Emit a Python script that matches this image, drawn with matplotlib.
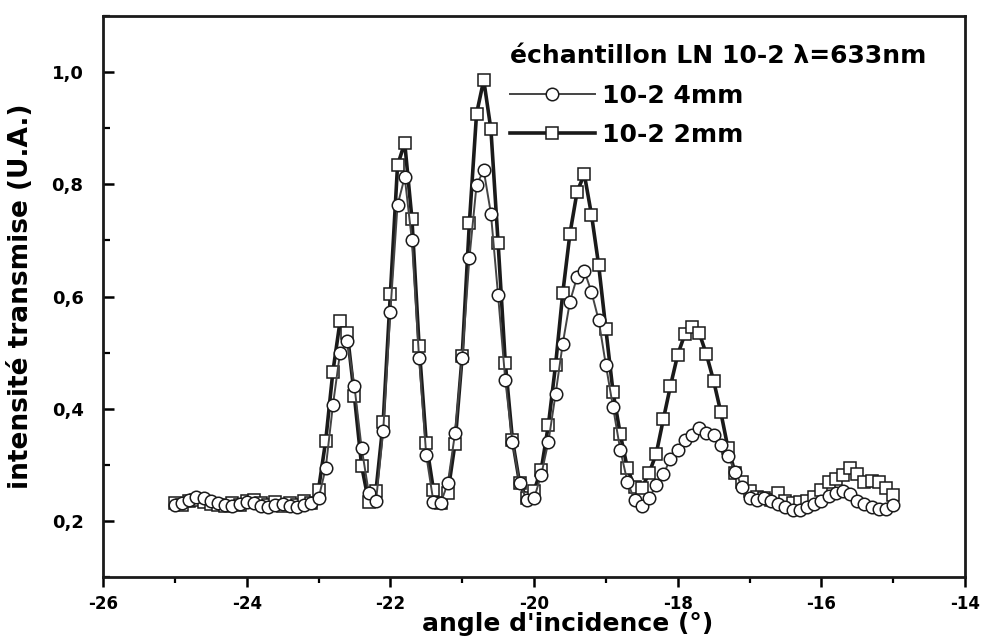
import numpy as np
import matplotlib
matplotlib.use('Agg')
import matplotlib.pyplot as plt
from matplotlib.ticker import MultipleLocator, FuncFormatter

plt.rcParams['font.family'] = ['DejaVu Sans']
plt.rcParams['axes.unicode_minus'] = False

# incidence angle grid (deg), one reading every 0.1 deg
angle = np.linspace(-25.0, -15.0, 101)

# sample 10-2, 4 mm thick (circles)
i_4mm = [
    0.228, 0.232, 0.238, 0.242, 0.240, 0.236, 0.232, 0.228, 0.226, 0.230,
    0.234, 0.232, 0.226, 0.224, 0.228, 0.230, 0.226, 0.224, 0.228, 0.232,
    0.240, 0.294, 0.406, 0.500, 0.520, 0.440, 0.330, 0.250, 0.235, 0.360,
    0.573, 0.763, 0.813, 0.700, 0.490, 0.317, 0.234, 0.232, 0.267, 0.356,
    0.490, 0.668, 0.799, 0.825, 0.748, 0.602, 0.451, 0.341, 0.267, 0.237,
    0.240, 0.282, 0.341, 0.426, 0.516, 0.591, 0.635, 0.646, 0.608, 0.558,
    0.478, 0.403, 0.327, 0.270, 0.237, 0.226, 0.240, 0.264, 0.283, 0.311,
    0.326, 0.344, 0.353, 0.365, 0.356, 0.353, 0.335, 0.316, 0.288, 0.260,
    0.240, 0.238, 0.240, 0.236, 0.230, 0.224, 0.220, 0.220, 0.224, 0.230,
    0.236, 0.244, 0.250, 0.254, 0.248, 0.236, 0.230, 0.225, 0.222, 0.221,
    0.228,
]

# sample 10-2, 2 mm thick (squares)
i_2mm = [
    0.232, 0.228, 0.236, 0.238, 0.234, 0.230, 0.228, 0.226, 0.232, 0.228,
    0.236, 0.238, 0.232, 0.228, 0.234, 0.226, 0.232, 0.228, 0.236, 0.232,
    0.256, 0.343, 0.466, 0.556, 0.535, 0.422, 0.298, 0.233, 0.254, 0.376,
    0.604, 0.834, 0.874, 0.739, 0.512, 0.339, 0.255, 0.232, 0.250, 0.338,
    0.494, 0.731, 0.926, 0.986, 0.898, 0.696, 0.482, 0.344, 0.267, 0.240,
    0.254, 0.291, 0.371, 0.478, 0.606, 0.712, 0.787, 0.818, 0.746, 0.656,
    0.542, 0.430, 0.355, 0.294, 0.260, 0.258, 0.285, 0.319, 0.381, 0.441,
    0.496, 0.533, 0.546, 0.535, 0.497, 0.450, 0.394, 0.330, 0.286, 0.270,
    0.254, 0.243, 0.240, 0.238, 0.249, 0.236, 0.232, 0.234, 0.236, 0.242,
    0.256, 0.270, 0.274, 0.282, 0.294, 0.283, 0.270, 0.272, 0.270, 0.258,
    0.246,
]

INK = '#1a1a1a'

fig = plt.figure(figsize=(9.84, 6.44), dpi=100, facecolor='white')
ax = fig.add_axes([0.1047, 0.104, 0.876, 0.871])

ax.plot(angle, i_2mm, color=INK, lw=2.6, marker='s', ms=8.5,
        mfc='white', mec=INK, mew=1.1, label='10-2 2mm', zorder=2)
ax.plot(angle, i_4mm, color='#444444', lw=1.4, marker='o', ms=9,
        mfc='white', mec=INK, mew=1.1, label='10-2 4mm', zorder=3)

ax.set_xlim(-26, -14)
ax.set_ylim(0.1, 1.1)

ax.xaxis.set_major_locator(MultipleLocator(2))
ax.xaxis.set_minor_locator(MultipleLocator(1))
ax.yaxis.set_major_locator(MultipleLocator(0.2))
ax.yaxis.set_minor_locator(MultipleLocator(0.1))
ax.yaxis.set_major_formatter(FuncFormatter(lambda v, p: f'{v:.1f}'.replace('.', ',')))
ax.xaxis.set_major_formatter(FuncFormatter(lambda v, p: f'{v:.0f}'))

ax.tick_params(axis='y', which='major', direction='in', length=8, width=1.8,
               labelsize=13, pad=14)
ax.tick_params(axis='y', which='minor', direction='in', length=5, width=1.6)
ax.tick_params(axis='x', which='major', direction='out', length=7, width=1.8,
               labelsize=12, pad=6)
ax.tick_params(axis='x', which='minor', direction='out', length=4, width=1.6)
for lab in ax.get_xticklabels() + ax.get_yticklabels():
    lab.set_fontweight('bold')

for s in ax.spines.values():
    s.set_linewidth(2.0)
    s.set_color(INK)

ax.set_xlabel("angle d'incidence (°)", fontsize=18, fontweight='bold')
ax.xaxis.set_label_coords((568 - 103) / 862, -0.062)
ax.set_ylabel('intensité transmise (U.A.)', fontsize=19, fontweight='bold',
              labelpad=13)

handles, labels = ax.get_legend_handles_labels()
leg = ax.legend(handles[::-1], labels[::-1], title='échantillon LN 10-2 λ=633nm',
                loc='upper left', bbox_to_anchor=(0.46, 0.968), frameon=False,
                handlelength=3.4, handletextpad=0.3, labelspacing=0.62,
                alignment='left', prop={'size': 18, 'weight': 'bold'},
                borderaxespad=0.0)
leg.get_title().set_fontsize(18)
leg.get_title().set_fontweight('bold')

fig.savefig('out.png', dpi=100, facecolor='white')
